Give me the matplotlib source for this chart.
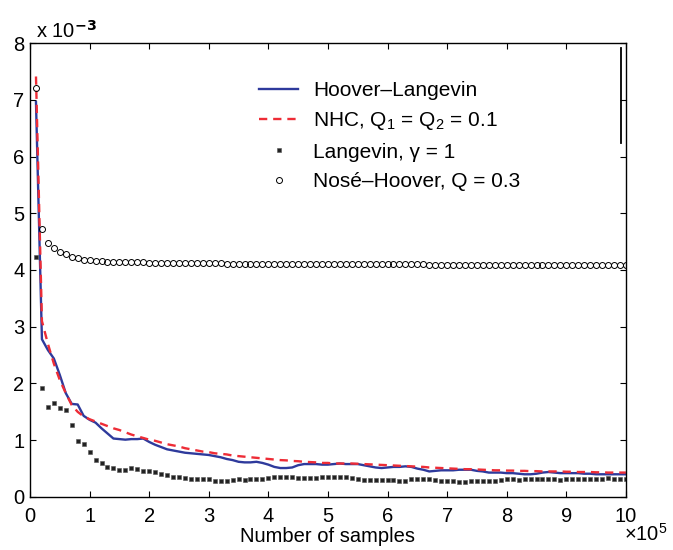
import numpy as np
import matplotlib
matplotlib.use("Agg")
import matplotlib.pyplot as plt

plt.rcParams['font.family'] = ['Liberation Sans', 'DejaVu Sans']
plt.rcParams['mathtext.fontset'] = 'custom'
plt.rcParams['mathtext.rm'] = 'Liberation Sans'
plt.rcParams['mathtext.it'] = 'Liberation Sans'

# samples (in units of 1e5), one point every 1e4 samples
n_samples = np.arange(1, 101) / 10.0

# error values in units of 1e-3
hoover_langevin = [
    6.96, 2.78, 2.59, 2.44, 2.15, 1.83, 1.64, 1.63, 1.43, 1.36,
    1.31, 1.21, 1.12, 1.03, 1.02, 1.01, 1.02, 1.02, 1.03, 0.97,
    0.92, 0.88, 0.84, 0.82, 0.80, 0.78, 0.77, 0.76, 0.75, 0.74,
    0.72, 0.70, 0.67, 0.65, 0.62, 0.61, 0.61, 0.62, 0.60, 0.57,
    0.53, 0.51, 0.51, 0.52, 0.56, 0.58, 0.58, 0.58, 0.57, 0.57,
    0.58, 0.59, 0.58, 0.58, 0.58, 0.56, 0.54, 0.52, 0.51, 0.52,
    0.53, 0.53, 0.54, 0.53, 0.50, 0.48, 0.45, 0.46, 0.47, 0.47,
    0.47, 0.48, 0.48, 0.48, 0.46, 0.45, 0.43, 0.43, 0.43, 0.42,
    0.42, 0.41, 0.40, 0.40, 0.41, 0.43, 0.44, 0.43, 0.42, 0.42,
    0.42, 0.42, 0.41, 0.41, 0.40, 0.40, 0.40, 0.40, 0.40, 0.40,
]

nhc = [
    7.41, 3.10, 2.70, 2.35, 2.06, 1.83, 1.62, 1.50, 1.42, 1.37,
    1.33, 1.29, 1.25, 1.21, 1.18, 1.14, 1.10, 1.07, 1.04, 1.01,
    0.99, 0.96, 0.93, 0.91, 0.89, 0.86, 0.84, 0.82, 0.80, 0.79,
    0.77, 0.76, 0.75, 0.73, 0.72, 0.71, 0.70, 0.69, 0.68, 0.67,
    0.66, 0.65, 0.645, 0.635, 0.63, 0.62, 0.615, 0.61, 0.60, 0.60,
    0.59, 0.59, 0.59, 0.59, 0.585, 0.58, 0.575, 0.57, 0.565, 0.56,
    0.555, 0.55, 0.545, 0.54, 0.535, 0.53, 0.52, 0.515, 0.51, 0.505,
    0.50, 0.495, 0.49, 0.49, 0.485, 0.48, 0.475, 0.47, 0.47, 0.465,
    0.465, 0.46, 0.46, 0.455, 0.455, 0.45, 0.45, 0.45, 0.45, 0.445,
    0.445, 0.44, 0.44, 0.44, 0.435, 0.435, 0.43, 0.43, 0.43, 0.43,
]

langevin = [
    4.23, 1.92, 1.59, 1.66, 1.57, 1.53, 1.27, 0.99, 0.93, 0.79,
    0.65, 0.60, 0.53, 0.51, 0.48, 0.48, 0.51, 0.49, 0.46, 0.46,
    0.44, 0.41, 0.39, 0.35, 0.35, 0.34, 0.32, 0.32, 0.32, 0.32,
    0.29, 0.28, 0.29, 0.30, 0.32, 0.30, 0.31, 0.32, 0.32, 0.34,
    0.35, 0.35, 0.35, 0.36, 0.33, 0.33, 0.33, 0.33, 0.35, 0.35,
    0.35, 0.35, 0.35, 0.33, 0.31, 0.30, 0.30, 0.30, 0.30, 0.30,
    0.30, 0.29, 0.29, 0.31, 0.32, 0.31, 0.31, 0.30, 0.28, 0.28,
    0.28, 0.27, 0.27, 0.28, 0.28, 0.28, 0.28, 0.29, 0.30, 0.31,
    0.31, 0.30, 0.31, 0.31, 0.31, 0.31, 0.31, 0.31, 0.30, 0.31,
    0.31, 0.31, 0.31, 0.31, 0.32, 0.32, 0.33, 0.32, 0.32, 0.32,
]

nose_hoover = [
    7.20, 4.73, 4.48, 4.38, 4.31, 4.28, 4.23, 4.21, 4.18, 4.17,
    4.16, 4.15, 4.14, 4.14, 4.14, 4.14, 4.14, 4.14, 4.14, 4.13,
    4.13, 4.13, 4.13, 4.13, 4.13, 4.13, 4.12, 4.12, 4.12, 4.12,
    4.12, 4.12, 4.11, 4.11, 4.11, 4.11, 4.11, 4.11, 4.11, 4.11,
    4.10, 4.10, 4.10, 4.10, 4.10, 4.10, 4.10, 4.10, 4.10, 4.10,
    4.10, 4.10, 4.10, 4.10, 4.10, 4.10, 4.10, 4.10, 4.10, 4.10,
    4.10, 4.10, 4.10, 4.10, 4.10, 4.10, 4.09, 4.09, 4.09, 4.09,
    4.09, 4.09, 4.09, 4.09, 4.09, 4.09, 4.09, 4.09, 4.09, 4.09,
    4.09, 4.09, 4.09, 4.09, 4.09, 4.09, 4.09, 4.09, 4.09, 4.09,
    4.09, 4.09, 4.09, 4.09, 4.09, 4.09, 4.09, 4.09, 4.09, 4.09,
]

fig = plt.figure(figsize=(6.73, 5.5), dpi=100)
ax = fig.add_axes([0.0446, 0.0964, 0.8854, 0.8254])

ax.plot(n_samples, hoover_langevin, color='#2e3a9c', lw=1.7, label='Hoover–Langevin')
ax.plot(n_samples, nhc, color='#ee2c36', lw=1.7, ls=(0, (3.5, 2.5)),
        label='NHC, Q$_1$ = Q$_2$ = 0.1')
ax.plot(n_samples, langevin, ls='none', marker='s', ms=3.2, color='#222222',
        mec='#555555', mew=0.4, label='Langevin, γ = 1')
ax.plot(n_samples, nose_hoover, ls='none', marker='o', ms=4.3, mfc='none',
        mec='black', mew=0.7, label='Nosé–Hoover, Q = 0.3')

# stray vertical stroke near the upper right corner
ax.axvline(9.91, ymin=0.78, ymax=0.989, color='black', lw=1.3)

ax.set_xlim(0, 10)
ax.set_ylim(0, 8)
ax.set_xticks(range(0, 11))
ax.set_yticks(range(0, 9))
ax.tick_params(direction='in', top=True, right=True, length=4, width=0.8,
               labelsize=14.5)
ax.tick_params(axis='x', pad=7)
ax.tick_params(axis='y', pad=4)
for s in ax.spines.values():
    s.set_linewidth(1.0)

ax.set_xlabel('Number of samples', fontsize=14.5, labelpad=1)

fig.text(0.053, 0.932, r'x 10$^{\mathbf{-3}}$', fontsize=14.5)
fig.text(0.927, 0.016, r'$\times$10$^{5}$', fontsize=14.5)

ax.legend(loc='upper left', bbox_to_anchor=(0.37, 0.935), frameon=False,
          fontsize=15, handlelength=1.9, handletextpad=0.7, labelspacing=0.5,
          borderaxespad=0)

fig.savefig('out.png', dpi=100)
